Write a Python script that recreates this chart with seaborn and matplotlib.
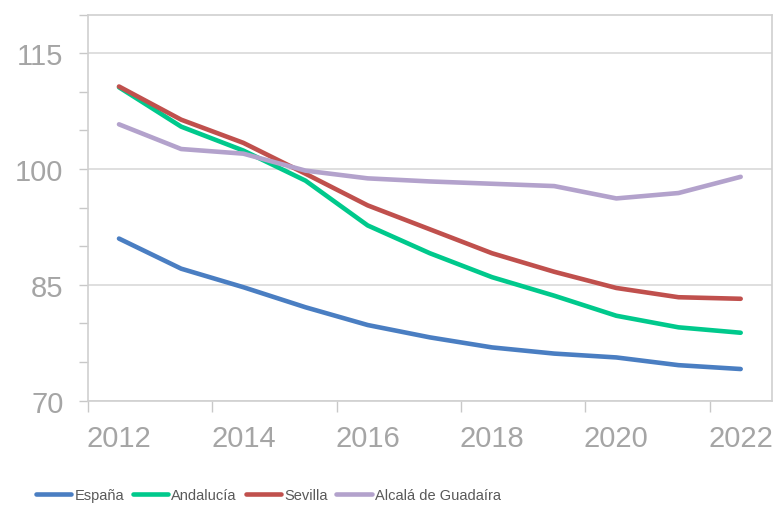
import matplotlib
matplotlib.use("Agg")
import matplotlib.pyplot as plt
import seaborn as sns
import pandas as pd
from matplotlib.ticker import FixedLocator

years = ["2012", "2013", "2014", "2015", "2016", "2017", "2018", "2019", "2020", "2021", "2022"]
espana = [91.0, 87.1, 84.7, 82.1, 79.8, 78.2, 76.9, 76.1, 75.6, 74.6, 74.1]
andalucia = [110.6, 105.5, 102.4, 98.5, 92.7, 89.1, 86.0, 83.6, 81.0, 79.5, 78.8]
sevilla = [110.7, 106.4, 103.4, 99.4, 95.3, 92.2, 89.1, 86.7, 84.6, 83.4, 83.2]
alcala = [105.8, 102.6, 102.0, 99.8, 98.8, 98.4, 98.1, 97.8, 96.2, 96.9, 99.0]
series_names = ["España", "Andalucía", "Sevilla", "Alcalá de Guadaíra"]
colors = ["#4A7EC2", "#00C98C", "#C0504D", "#B3A2CC"]

rows = []
for name, vals in zip(series_names, [espana, andalucia, sevilla, alcala]):
    for i, v in enumerate(vals):
        rows.append({"idx": i, "valor": v, "serie": name})
df = pd.DataFrame(rows)

sns.set_theme(style="white")
plt.rcParams["font.family"] = ["Liberation Sans", "DejaVu Sans"]

fig = plt.figure(figsize=(7.78, 5.10), dpi=100)
ax = fig.add_axes([0.113, 0.2124, 0.879, 0.7568])

sns.lineplot(data=df, x="idx", y="valor", hue="serie", hue_order=series_names,
             palette=colors, linewidth=3.3, ax=ax, legend=True,
             solid_capstyle="round")

ax.set_xlim(-0.5, 10.5)
ax.set_ylim(70, 120)

# x axis: labels on every other category, tick marks between categories
ax.xaxis.set_major_locator(FixedLocator(list(range(0, 11, 2))))
ax.set_xticklabels([years[i] for i in range(0, 11, 2)])
ax.xaxis.set_minor_locator(FixedLocator([-0.5, 1.5, 3.5, 5.5, 7.5, 9.5]))
ax.tick_params(axis="x", which="major", length=0, pad=16.5, labelsize=21, labelcolor="#A5A5A5")
ax.tick_params(axis="x", which="minor", length=8, width=1, color="#C8C8C8", direction="out", bottom=True)

# y axis
ax.yaxis.set_major_locator(FixedLocator([70, 85, 100, 115]))
ax.yaxis.set_minor_locator(FixedLocator([75, 80, 90, 95, 105, 110, 120]))
ax.tick_params(axis="y", which="both", length=6.5, width=1, color="#C8C8C8", direction="out", left=True,
               labelsize=21, labelcolor="#A5A5A5", pad=11)

ax.grid(True, axis="y", which="major", color="#D9D9D9", linewidth=1.2)
ax.grid(False, axis="x")
for side, sp in ax.spines.items():
    sp.set_visible(True)
    sp.set_color("#D0D0D0")
    sp.set_linewidth(1.2)

ax.set_xlabel("")
ax.set_ylabel("")

handles, labels = ax.get_legend_handles_labels()
ax.get_legend().remove()
leg = fig.legend(handles, labels, loc="center", bbox_to_anchor=(0.345, 0.027), ncol=4,
                 frameon=False, fontsize=10.5, handlelength=2.45, handletextpad=0.2,
                 columnspacing=0.6)
for t in leg.get_texts():
    t.set_color("#595959")
for l in leg.get_lines():
    l.set_linewidth(3.3)

fig.savefig("out.png", dpi=100)
